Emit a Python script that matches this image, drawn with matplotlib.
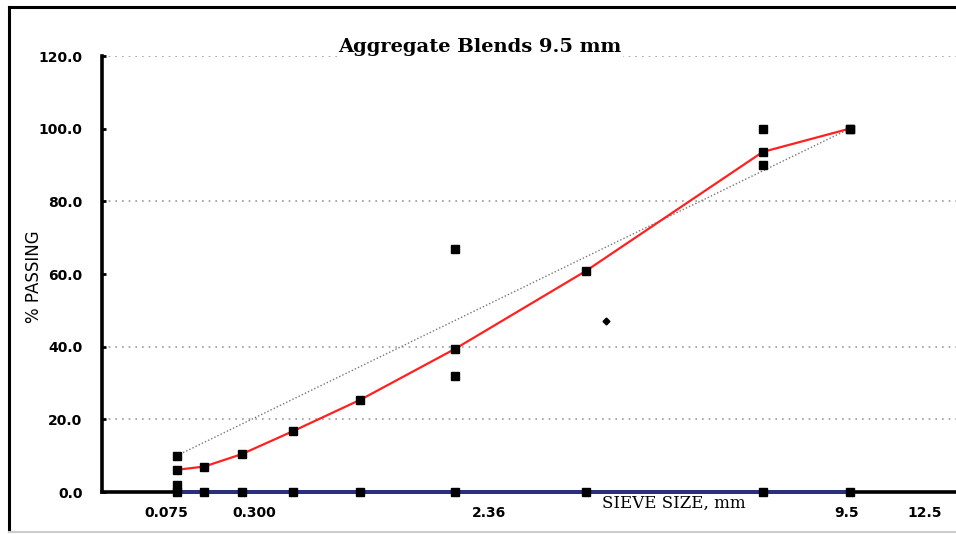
import numpy as np
import matplotlib.pyplot as plt
from matplotlib.lines import Line2D

# sieve sizes (mm) and % passing
sieves = [0.075, 0.15, 0.3, 0.6, 1.18, 2.36, 4.75, 9.5, 12.5]
blend = [6.1, 7.0, 10.4, 16.7, 25.4, 39.4, 60.8, 93.6, 100.0]
baseline = [0, 0, 0, 0, 0, 0, 0, 0, 0]
maxden_sieves = [0.075, 12.5]
maxden = [10.0, 100.0]
ctrl_sieves = [0.075, 0.075, 2.36, 2.36, 9.5, 9.5, 12.5]
ctrl = [2.0, 10.0, 32.0, 67.0, 90.0, 100.0, 100.0]
stray_sieve = [5.2]
stray = [47.2]
grid_levels = [20, 40, 80, 120]
yticks = [0, 20, 40, 60, 80, 100, 120]
xlabels = ['0.075', '0.300', '2.36', '9.5', '12.5']
xlabel_pos = [0.0528, 0.366, 2.893, 12.38, 15.47]


def fwd(x):
    return np.power(np.clip(x, 0, None), 0.45)


def inv(x):
    return np.power(np.clip(x, 0, None), 1 / 0.45)


fig = plt.figure(figsize=(9.56, 5.34), dpi=100)
ax = fig.add_axes([102 / 956, 42 / 534, 1 - 102 / 956, 436 / 534])
ax.set_xscale('function', functions=(fwd, inv))
ax.set_xlim(0, 16.8)
ax.set_ylim(0, 120)

for g in grid_levels:
    ax.axhline(g, color='#9a9a9a', lw=1.2, ls=(0, (1, 3)), zorder=1)

ax.plot(maxden_sieves, maxden, color='#777777', lw=1.0, ls=(0, (1, 1.5)), zorder=2)
ax.plot(sieves, blend, color='#ff2020', lw=1.6, zorder=3)
ax.plot(sieves, blend, 's', color='black', ms=6, zorder=4)
ax.plot(ctrl_sieves, ctrl, 's', color='black', ms=6, zorder=4)
ax.plot(sieves, baseline, color='#2a2f86', lw=2.6, zorder=5, clip_on=False)
ax.plot(sieves, baseline, 's', color='black', ms=6, zorder=6, clip_on=False)
ax.plot(stray_sieve, stray, 'D', color='black', ms=3.5, zorder=4)

for s in ['top', 'right']:
    ax.spines[s].set_visible(False)
ax.spines['left'].set_linewidth(2.6)
ax.spines['bottom'].set_linewidth(2.6)

ax.set_yticks(yticks)
ax.set_yticklabels([f'{v:.1f}' for v in yticks], fontweight='bold', fontsize=10)
ax.tick_params(axis='y', direction='in', length=3, width=2, pad=14)
ax.set_xticks(xlabel_pos)
ax.set_xticklabels(xlabels, fontweight='bold', fontsize=10)
ax.tick_params(axis='x', length=0, pad=10)
ax.xaxis.set_minor_locator(plt.NullLocator())

fig.text(480 / 956, 1 - 47 / 534, 'Aggregate Blends 9.5 mm', ha='center', va='center',
         family='DejaVu Serif', fontweight='bold', fontsize=14,
         bbox=dict(facecolor='white', edgecolor='none', pad=1))
fig.text(674 / 956, 1 - 503 / 534, 'SIEVE SIZE, mm', ha='center', va='center',
         family='DejaVu Serif', fontsize=12,
         bbox=dict(facecolor='white', edgecolor='none', pad=0.5))
fig.text(34 / 956, 1 - 277 / 534, '% PASSING', ha='center', va='center',
         rotation=90, fontsize=12)

# frame around the picture
fig.add_artist(Line2D([9 / 956, 9 / 956], [0.005, 1 - 7 / 534], color='black', lw=2.2))
fig.add_artist(Line2D([9 / 956, 1], [1 - 7 / 534, 1 - 7 / 534], color='black', lw=2.2))
fig.add_artist(Line2D([9 / 956, 1], [0.004, 0.004], color='#cccccc', lw=1.5))

plt.savefig('out.png', dpi=100)
